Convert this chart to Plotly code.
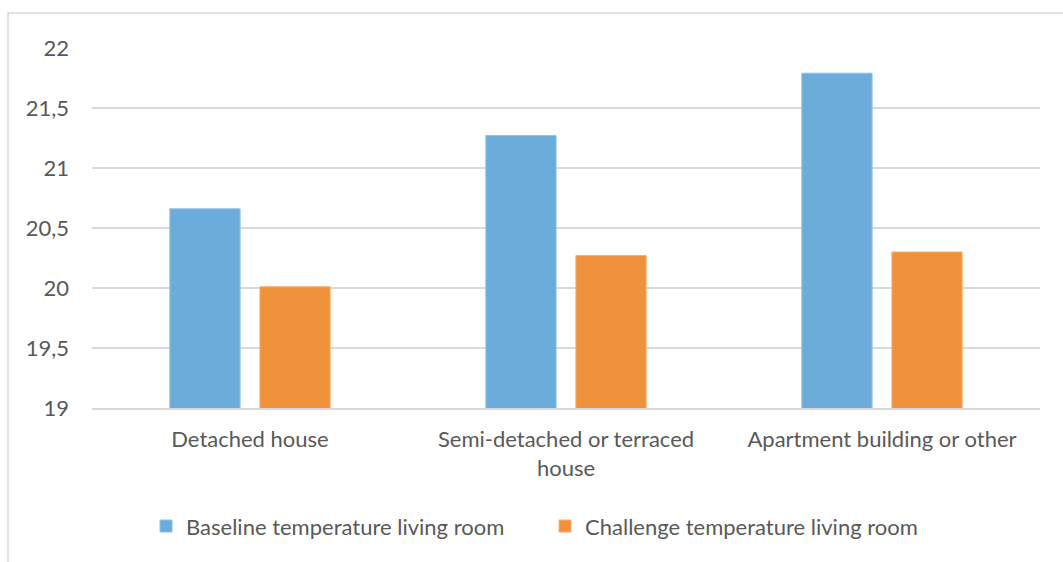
import plotly.graph_objects as go

# Dwelling categories and mean living-room temperatures (°C)
categories = ["Detached house", "Semi-detached or terraced<br>house", "Apartment building or other"]
baseline = [20.66, 21.27, 21.79]
challenge = [20.01, 20.27, 20.30]
series_names = ["Baseline temperature living room", "Challenge temperature living room"]

y_ticks = [19, 19.5, 20, 20.5, 21, 21.5, 22]
y_tick_labels = ["19", "19,5", "20", "20,5", "21", "21,5", "22"]

BLUE = "#6BACDA"
ORANGE = "#F0913C"
TEXT = "#595959"
GRID = "#D9D9D9"
FONT = "Lato"

fig = go.Figure()
fig.add_trace(go.Bar(x=categories, y=baseline, name=series_names[0],
                     marker=dict(color=BLUE, line=dict(color="#8EC1E5", width=1))))
fig.add_trace(go.Bar(x=categories, y=challenge, name=series_names[1],
                     marker=dict(color=ORANGE, line=dict(color="#F5AE70", width=1))))

fig.update_layout(
    width=1063, height=562,
    margin=dict(l=92, r=23, t=48, b=154),
    paper_bgcolor="white", plot_bgcolor="white",
    font=dict(family=FONT, size=22, color=TEXT),
    barmode="group", bargap=0.43, bargroupgap=0.22,
    showlegend=True,
    legend=dict(orientation="h", x=0.057, xanchor="left", y=-0.27, yanchor="top",
                font=dict(family=FONT, size=22, color=TEXT),
                entrywidth=354, entrywidthmode="pixels",
                itemclick=False, bgcolor="rgba(0,0,0,0)"),
    shapes=[dict(type="rect", xref="paper", yref="paper",
                 x0=-0.0886, x1=1.05, y0=-0.45, y1=1.097,
                 line=dict(color=GRID, width=1.5), fillcolor="rgba(0,0,0,0)",
                 layer="below")],
)

fig.update_yaxes(range=[19, 22], tickvals=y_ticks, ticktext=y_tick_labels,
                 showgrid=True, gridcolor=GRID, gridwidth=1.5,
                 zeroline=False, showline=False, ticks="",
                 ticklabelstandoff=22, fixedrange=True)
fig.update_xaxes(showline=True, linecolor=GRID, linewidth=1.5, ticks="",
                 ticklabelstandoff=11, fixedrange=True)

fig.write_html("out.html")
